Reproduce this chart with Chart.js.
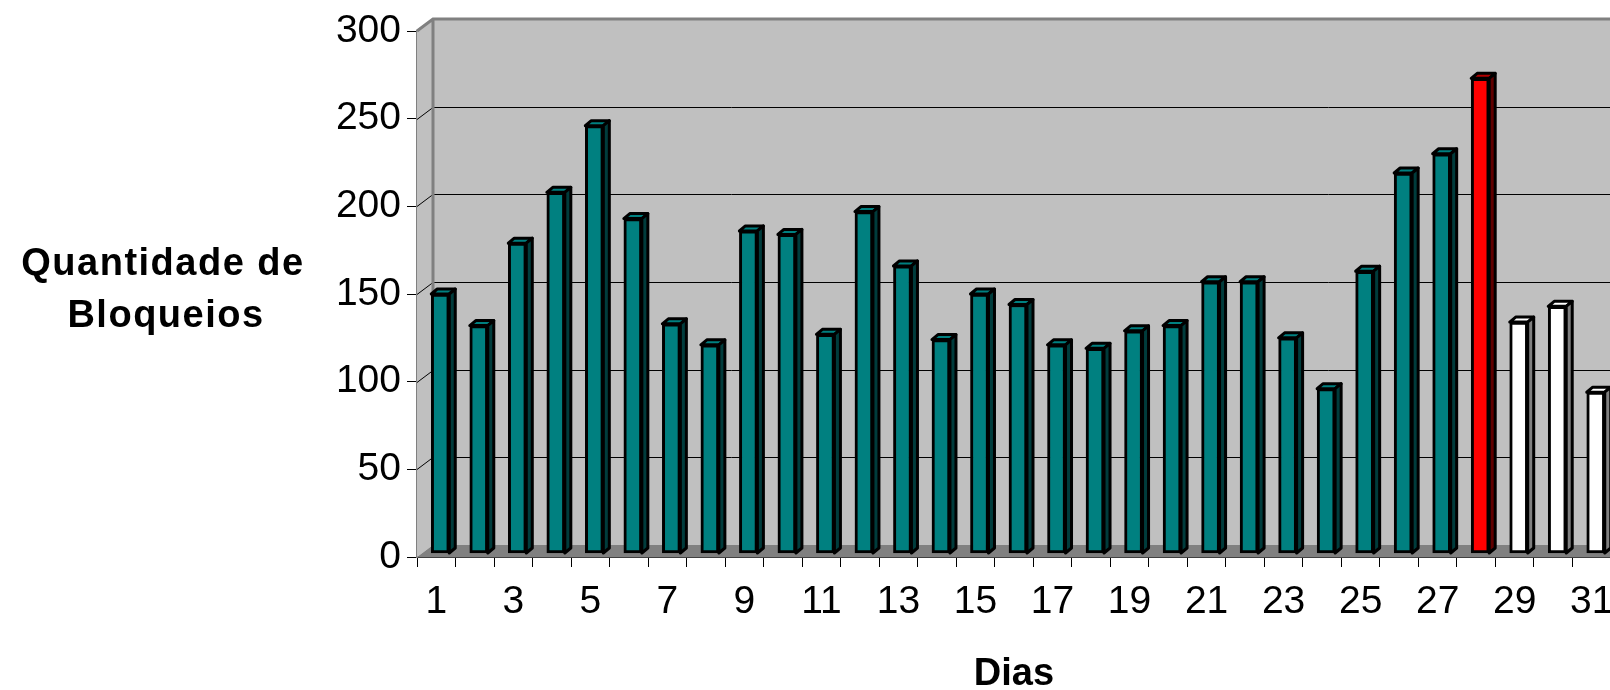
<!DOCTYPE html>
<html>
<head>
<meta charset="utf-8">
<script src="https://cdn.jsdelivr.net/npm/chart.js@4.4.1/dist/chart.umd.min.js"></script>
<style>
  html, body { margin: 0; padding: 0; background: #fff; overflow: hidden; }
  #wrap { width: 1640px; height: 690px; }
</style>
</head>
<body>
<div id="wrap"><canvas id="chart" width="1640" height="690"></canvas></div>
<script>
// dias do mes
const dias = ['1','2','3','4','5','6','7','8','9','10','11','12','13','14','15','16',
  '17','18','19','20','21','22','23','24','25','26','27','28','29','30','31'];

// quantidade de bloqueios por dia
const bloqueios = [148, 130, 177, 206, 244, 191, 131, 119, 184, 182, 125, 195, 164, 122, 148, 142,
  119, 117, 127, 130, 155, 155, 123, 94, 161, 217, 228, 271, 132, 141, 92];

const yMin = 0;
const yMax = 300;
const yPasso = 50;

const diaAtual = 28; // vermelho; depois dele, dias em branco

const fonte = "'Liberation Sans', Arial, sans-serif";

function corDoDia(i, tipo) {
  const dia = i + 1;
  if (dia < diaAtual) return {frente: '#008080', topo: '#008080', lado: '#003c3c'}[tipo];
  if (dia === diaAtual) return {frente: '#ff0000', topo: '#b00000', lado: '#600000'}[tipo];
  return {frente: '#ffffff', topo: '#ffffff', lado: '#808080'}[tipo];
}

// paredes, piso e faces 3D das barras
const fundo3d = {
  id: 'fundo3d',
  beforeDatasetsDraw(chart) {
    const {ctx, chartArea: a, scales: {y}} = chart;
    const dx = 16, dy = 12;
    ctx.save();
    ctx.fillStyle = '#c0c0c0';
    ctx.beginPath();
    ctx.moveTo(a.left, a.top);
    ctx.lineTo(a.left + dx, a.top - dy);
    ctx.lineTo(a.left + dx, a.bottom - dy);
    ctx.lineTo(a.left, a.bottom);
    ctx.closePath();
    ctx.fill();
    ctx.fillRect(a.left + dx, a.top - dy, a.right - a.left, a.bottom - a.top);

    ctx.fillStyle = '#808080';
    ctx.beginPath();
    ctx.moveTo(a.left, a.bottom);
    ctx.lineTo(a.left + dx, a.bottom - dy);
    ctx.lineTo(a.right + dx, a.bottom - dy);
    ctx.lineTo(a.right, a.bottom);
    ctx.closePath();
    ctx.fill();

    ctx.strokeStyle = '#000';
    ctx.lineWidth = 1;
    y.ticks.forEach(t => {
      if (t.value === yMin || t.value === yMax) return;
      const py = Math.round(y.getPixelForValue(t.value)) + 0.5;
      ctx.beginPath();
      ctx.moveTo(a.left, py);
      ctx.lineTo(a.left + dx, py - dy);
      ctx.lineTo(a.right + dx, py - dy);
      ctx.stroke();
    });

    ctx.strokeStyle = '#808080';
    ctx.lineWidth = 3;
    ctx.beginPath();
    ctx.moveTo(a.left, a.top);
    ctx.lineTo(a.left + dx, a.top - dy);
    ctx.lineTo(a.right + dx, a.top - dy);
    ctx.moveTo(a.left + dx, a.top - dy);
    ctx.lineTo(a.left + dx, a.bottom - dy);
    ctx.stroke();
    ctx.restore();

    // barras ficam um pouco para dentro do piso
    ctx.save();
    ctx.translate(4, -3.5);
    const d = 6, e = 5;
    ctx.lineWidth = 3;
    ctx.lineJoin = 'round';
    ctx.strokeStyle = '#000';
    chart.getDatasetMeta(0).data.forEach((bar, i) => {
      const l = bar.x - bar.width / 2, r = bar.x + bar.width / 2;
      ctx.fillStyle = corDoDia(i, 'topo');
      ctx.beginPath();
      ctx.moveTo(l, bar.y);
      ctx.lineTo(l + d, bar.y - e);
      ctx.lineTo(r + d, bar.y - e);
      ctx.lineTo(r, bar.y);
      ctx.closePath();
      ctx.fill();
      ctx.stroke();
      ctx.fillStyle = corDoDia(i, 'lado');
      ctx.beginPath();
      ctx.moveTo(r, bar.y);
      ctx.lineTo(r + d, bar.y - e);
      ctx.lineTo(r + d, bar.base - e);
      ctx.lineTo(r, bar.base);
      ctx.closePath();
      ctx.fill();
      ctx.stroke();
    });
  },
  afterDatasetsDraw(chart) {
    chart.ctx.restore();
  }
};

// titulo do eixo y, horizontal em duas linhas
const tituloY = {
  id: 'tituloY',
  afterDraw(chart) {
    const ctx = chart.ctx;
    ctx.save();
    ctx.font = 'bold 38px ' + fonte;
    ctx.fillStyle = '#000';
    ctx.textAlign = 'center';
    ctx.textBaseline = 'middle';
    if ('letterSpacing' in ctx) ctx.letterSpacing = '1.5px';
    ctx.fillText('Quantidade de', 163, 265);
    ctx.fillText('Bloqueios', 166, 317);
    ctx.restore();
  }
};

new Chart(document.getElementById('chart'), {
  type: 'bar',
  data: {
    labels: dias,
    datasets: [{
      data: bloqueios,
      backgroundColor: bloqueios.map((v, i) => corDoDia(i, 'frente')),
      borderColor: '#000',
      borderWidth: 3,
      borderSkipped: false,
      barThickness: 18,
      clip: false
    }]
  },
  options: {
    responsive: false,
    animation: false,
    layout: { padding: { top: 31, right: 29, bottom: 0, left: 0 } },
    plugins: {
      legend: { display: false },
      tooltip: { enabled: false }
    },
    scales: {
      x: {
        offset: true,
        afterFit(scale) { scale.height = 133; },
        grid: { offset: true, drawOnChartArea: false, drawTicks: true, tickLength: 10, color: '#000', lineWidth: 1 },
        border: { color: '#404040', width: 2 },
        ticks: {
          autoSkip: false,
          maxRotation: 0,
          padding: 12,
          color: '#000',
          font: { family: fonte, size: 39 },
          callback: (v, i) => (i % 2 === 0 ? dias[i] : '')
        },
        title: {
          display: true,
          text: 'Dias',
          color: '#000',
          font: { family: fonte, size: 38, weight: 'bold', lineHeight: 0.8 },
          padding: { top: 0, bottom: 0 }
        }
      },
      y: {
        min: yMin,
        max: yMax,
        afterFit(scale) { scale.width = 417; },
        grid: { drawOnChartArea: false, drawTicks: true, tickLength: 10, color: '#000', lineWidth: 1 },
        border: { color: '#808080', width: 2 },
        ticks: {
          stepSize: yPasso,
          padding: 6,
          color: '#000',
          font: { family: fonte, size: 39 }
        }
      }
    }
  },
  plugins: [fundo3d, tituloY]
});
</script>
</body>
</html>
